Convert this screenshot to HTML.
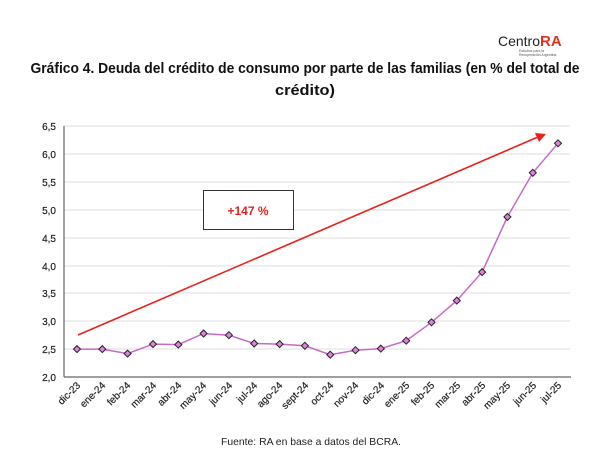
<!DOCTYPE html>
<html><head><meta charset="utf-8"><style>
html,body{margin:0;padding:0;background:#fff;}
svg{display:block;font-family:"Liberation Sans",sans-serif;}
</style></head><body>
<svg width="610" height="476" viewBox="0 0 610 476" xmlns="http://www.w3.org/2000/svg">
<rect width="610" height="476" fill="#fff"/>
<!-- logo -->
<text x="498" y="46" font-size="14" fill="#222" textLength="42" lengthAdjust="spacingAndGlyphs">Centro</text>
<text x="540" y="46" font-size="15" font-weight="bold" fill="#e2311d">RA</text>
<text x="519" y="52" font-size="3.5" fill="#555">Estudios para la</text>
<text x="519" y="56" font-size="3.5" fill="#555">Recuperación Argentina</text>
<!-- title -->
<text x="305" y="73" font-size="15" font-weight="bold" fill="#111" text-anchor="middle" textLength="549" lengthAdjust="spacingAndGlyphs">Gráfico 4. Deuda del crédito de consumo por parte de las familias (en % del total de</text>
<text x="305" y="95" font-size="15" font-weight="bold" fill="#111" text-anchor="middle" textLength="60" lengthAdjust="spacingAndGlyphs">crédito)</text>
<!-- grid -->
<g stroke="#dcdcdc" stroke-width="1">
<line x1="64" x2="570" y1="126" y2="126"/>
<line x1="64" x2="570" y1="154" y2="154"/>
<line x1="64" x2="570" y1="182" y2="182"/>
<line x1="64" x2="570" y1="210" y2="210"/>
<line x1="64" x2="570" y1="238" y2="238"/>
<line x1="64" x2="570" y1="266" y2="266"/>
<line x1="64" x2="570" y1="293" y2="293"/>
<line x1="64" x2="570" y1="321" y2="321"/>
<line x1="64" x2="570" y1="349" y2="349"/>
</g>
<line x1="64" x2="64" y1="126" y2="377" stroke="#666" stroke-width="1.2"/>
<line x1="64" x2="571" y1="377" y2="377" stroke="#666" stroke-width="1.2"/>
<g font-size="10" fill="#222" text-anchor="end" stroke="#222" stroke-width="0.2">
<text x="56" y="130">6,5</text>
<text x="56" y="158">6,0</text>
<text x="56" y="186">5,5</text>
<text x="56" y="214">5,0</text>
<text x="56" y="242">4,5</text>
<text x="56" y="270">4,0</text>
<text x="56" y="297">3,5</text>
<text x="56" y="325">3,0</text>
<text x="56" y="353">2,5</text>
<text x="56" y="381">2,0</text>
</g>
<g font-size="10" fill="#222" text-anchor="end" stroke="#222" stroke-width="0.2">
<text transform="translate(81,386) rotate(-45)">dic-23</text>
<text transform="translate(106,386) rotate(-45)">ene-24</text>
<text transform="translate(131,386) rotate(-45)">feb-24</text>
<text transform="translate(157,386) rotate(-45)">mar-24</text>
<text transform="translate(182,386) rotate(-45)">abr-24</text>
<text transform="translate(207,386) rotate(-45)">may-24</text>
<text transform="translate(233,386) rotate(-45)">jun-24</text>
<text transform="translate(258,386) rotate(-45)">jul-24</text>
<text transform="translate(283,386) rotate(-45)">ago-24</text>
<text transform="translate(309,386) rotate(-45)">sept-24</text>
<text transform="translate(334,386) rotate(-45)">oct-24</text>
<text transform="translate(359,386) rotate(-45)">nov-24</text>
<text transform="translate(385,386) rotate(-45)">dic-24</text>
<text transform="translate(410,386) rotate(-45)">ene-25</text>
<text transform="translate(435,386) rotate(-45)">feb-25</text>
<text transform="translate(461,386) rotate(-45)">mar-25</text>
<text transform="translate(486,386) rotate(-45)">abr-25</text>
<text transform="translate(511,386) rotate(-45)">may-25</text>
<text transform="translate(537,386) rotate(-45)">jun-25</text>
<text transform="translate(562,386) rotate(-45)">jul-25</text>
</g>
<!-- arrow -->
<line x1="78" y1="335" x2="538" y2="137" stroke="#e8201a" stroke-width="1.6"/>
<polygon points="546,134 535,133 539,142" fill="#e8201a"/>
<!-- box -->
<rect x="203.5" y="190.5" width="90" height="39" fill="#fff" stroke="#333" stroke-width="1"/>
<text x="248" y="215" font-size="12" font-weight="bold" fill="#e8201a" text-anchor="middle">+147 %</text>
<!-- series -->
<polyline fill="none" stroke="#c868c8" stroke-width="1.5" points="77,349.1 102.3,349.1 127.6,353.6 153,344.1 178.3,344.6 203.6,333.5 228.9,335.2 254.2,343.5 279.6,344.1 304.9,345.8 330.2,354.7 355.5,350.2 380.8,348.6 406.2,340.7 431.5,322.3 456.8,300.6 482.1,272.1 507.4,216.9 532.8,172.8 558,143.3"/>
<g fill="#e080e0" stroke="#222" stroke-width="1">
<path d="M77 345.6l3.5 3.5-3.5 3.5-3.5-3.5z"/>
<path d="M102.3 345.6l3.5 3.5-3.5 3.5-3.5-3.5z"/>
<path d="M127.6 350.1l3.5 3.5-3.5 3.5-3.5-3.5z"/>
<path d="M153 340.6l3.5 3.5-3.5 3.5-3.5-3.5z"/>
<path d="M178.3 341.1l3.5 3.5-3.5 3.5-3.5-3.5z"/>
<path d="M203.6 330l3.5 3.5-3.5 3.5-3.5-3.5z"/>
<path d="M228.9 331.7l3.5 3.5-3.5 3.5-3.5-3.5z"/>
<path d="M254.2 340l3.5 3.5-3.5 3.5-3.5-3.5z"/>
<path d="M279.6 340.6l3.5 3.5-3.5 3.5-3.5-3.5z"/>
<path d="M304.9 342.3l3.5 3.5-3.5 3.5-3.5-3.5z"/>
<path d="M330.2 351.2l3.5 3.5-3.5 3.5-3.5-3.5z"/>
<path d="M355.5 346.7l3.5 3.5-3.5 3.5-3.5-3.5z"/>
<path d="M380.8 345.1l3.5 3.5-3.5 3.5-3.5-3.5z"/>
<path d="M406.2 337.2l3.5 3.5-3.5 3.5-3.5-3.5z"/>
<path d="M431.5 318.8l3.5 3.5-3.5 3.5-3.5-3.5z"/>
<path d="M456.8 297.1l3.5 3.5-3.5 3.5-3.5-3.5z"/>
<path d="M482.1 268.6l3.5 3.5-3.5 3.5-3.5-3.5z"/>
<path d="M507.4 213.4l3.5 3.5-3.5 3.5-3.5-3.5z"/>
<path d="M532.8 169.3l3.5 3.5-3.5 3.5-3.5-3.5z"/>
<path d="M558 139.8l3.5 3.5-3.5 3.5-3.5-3.5z"/>
</g>
<text x="311" y="445" font-size="10.5" fill="#222" text-anchor="middle" textLength="180" lengthAdjust="spacingAndGlyphs">Fuente: RA en base a datos del BCRA.</text>
</svg>
</body></html>
